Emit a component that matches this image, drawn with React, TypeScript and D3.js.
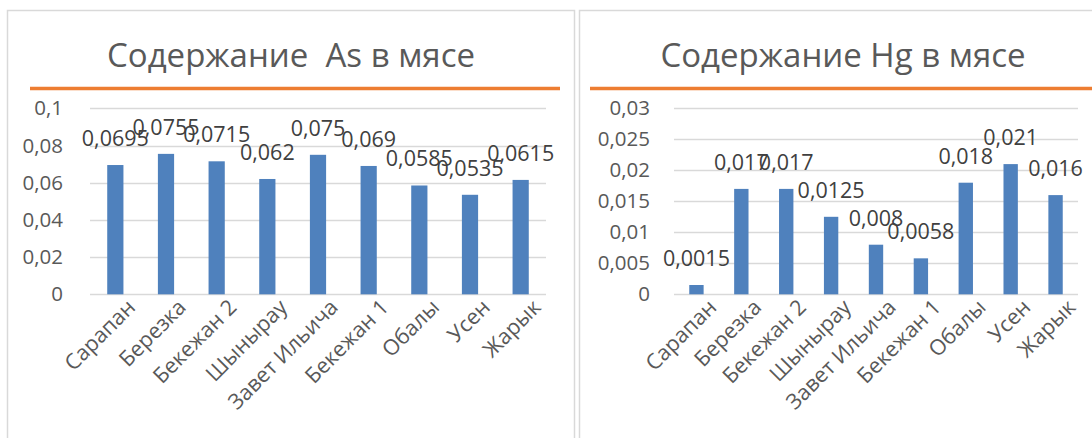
import React, { useRef, useEffect } from "react";
import { select, scaleBand, scaleLinear } from "d3";

// categories (same for both charts)
const sites = [
  "Сарапан",
  "Березка",
  "Бекежан 2",
  "Шынырау",
  "Завет Ильича",
  "Бекежан 1",
  "Обалы",
  "Усен",
  "Жарык",
];

// As in meat
const asValues = [0.0695, 0.0755, 0.0715, 0.062, 0.075, 0.069, 0.0585, 0.0535, 0.0615];
const asLabels = ["0,0695", "0,0755", "0,0715", "0,062", "0,075", "0,069", "0,0585", "0,0535", "0,0615"];
const asTicks = [0, 0.02, 0.04, 0.06, 0.08, 0.1];
const asTickLabels = ["0", "0,02", "0,04", "0,06", "0,08", "0,1"];

// Hg in meat
const hgValues = [0.0015, 0.017, 0.017, 0.0125, 0.008, 0.0058, 0.018, 0.021, 0.016];
const hgLabels = ["0,0015", "0,017", "0,017", "0,0125", "0,008", "0,0058", "0,018", "0,021", "0,016"];
const hgTicks = [0, 0.005, 0.01, 0.015, 0.02, 0.025, 0.03];
const hgTickLabels = ["0", "0,005", "0,01", "0,015", "0,02", "0,025", "0,03"];

const FONT = "'Open Sans', sans-serif";
const TEXT = "#595959";
const GRID = "#d9d9d9";
const BAR = "#4f81bd";
const ORANGE = "#ed7d31";

function drawChart(g, opts) {
  const { title, values, labels, ticks, tickLabels, box, plot, titleX, lineX } = opts;

  // frame
  g.append("rect")
    .attr("x", box[0] + 0.5)
    .attr("y", box[1] + 0.5)
    .attr("width", box[2])
    .attr("height", box[3])
    .attr("fill", "#fff")
    .attr("stroke", GRID)
    .attr("stroke-width", 1.5);

  // title
  g.append("text")
    .attr("x", titleX)
    .attr("y", 67)
    .attr("text-anchor", "middle")
    .attr("font-family", FONT)
    .attr("font-size", 33)
    .attr("fill", TEXT)
    .style("white-space", "pre")
    .text(title);

  // orange rule under title
  g.append("line")
    .attr("x1", lineX[0])
    .attr("x2", lineX[1])
    .attr("y1", 88.5)
    .attr("y2", 88.5)
    .attr("stroke", ORANGE)
    .attr("stroke-width", 3.5);

  const x = scaleBand().domain(sites).range([plot.x0, plot.x1]).paddingInner(0.68).paddingOuter(0.34);
  const y = scaleLinear().domain([0, ticks[ticks.length - 1]]).range([plot.y0, plot.y1]);

  // gridlines
  g.selectAll(".grid")
    .data(ticks)
    .join("line")
    .attr("x1", plot.x0)
    .attr("x2", plot.x1)
    .attr("y1", (d) => Math.round(y(d)) + 0.5)
    .attr("y2", (d) => Math.round(y(d)) + 0.5)
    .attr("stroke", GRID)
    .attr("stroke-width", 1.3);

  // y tick labels
  g.selectAll(".ytick")
    .data(ticks)
    .join("text")
    .attr("x", plot.x0 - plot.labelGap)
    .attr("y", (d) => y(d))
    .attr("dy", "0.35em")
    .attr("text-anchor", "end")
    .attr("font-family", FONT)
    .attr("font-size", 20.5)
    .attr("fill", TEXT)
    .text((d, i) => tickLabels[i]);

  // bars
  g.selectAll(".bar")
    .data(values)
    .join("rect")
    .attr("x", (d, i) => x(sites[i]))
    .attr("y", (d) => y(d))
    .attr("width", x.bandwidth())
    .attr("height", (d) => y(0) - y(d))
    .attr("fill", BAR);

  // data labels
  g.selectAll(".dlabel")
    .data(values)
    .join("text")
    .attr("x", (d, i) => x(sites[i]) + x.bandwidth() / 2)
    .attr("y", (d) => y(d) - 19)
    .attr("text-anchor", "middle")
    .attr("font-family", FONT)
    .attr("font-size", 21.5)
    .attr("fill", "#404040")
    .text((d, i) => labels[i]);

  // category labels, rotated
  g.selectAll(".xlabel")
    .data(sites)
    .join("text")
    .attr("transform", (d) => `translate(${x(d) + x.bandwidth() / 2 + 16},${plot.y0 + 9}) rotate(-45)`)
    .attr("dy", "0.35em")
    .attr("text-anchor", "end")
    .attr("font-family", FONT)
    .attr("font-size", 21.5)
    .attr("fill", TEXT)
    .text((d) => d);
}

export default function App() {
  const svgRef = useRef(null);

  useEffect(() => {
    const svg = select(svgRef.current);
    svg.selectAll("*").remove();

    svg.append("rect").attr("width", 1092).attr("height", 438).attr("fill", "#fff");

    drawChart(svg.append("g"), {
      title: "Содержание  As в мясе",
      values: asValues,
      labels: asLabels,
      ticks: asTicks,
      tickLabels: asTickLabels,
      box: [7, 10, 567, 440],
      plot: { x0: 90, x1: 546, y0: 294.3, y1: 108.3, labelGap: 27 },
      titleX: 291,
      lineX: [30, 560],
    });

    drawChart(svg.append("g"), {
      title: "Содержание Hg в мясе",
      values: hgValues,
      labels: hgLabels,
      ticks: hgTicks,
      tickLabels: hgTickLabels,
      box: [579, 10, 530, 440],
      plot: { x0: 674, x1: 1078, y0: 294.3, y1: 108.3, labelGap: 24 },
      titleX: 843,
      lineX: [590, 1092],
    });
  }, []);

  return (
    <svg
      ref={svgRef}
      width={1092}
      height={438}
      style={{ position: "absolute", left: 0, top: 0, display: "block" }}
    />
  );
}
